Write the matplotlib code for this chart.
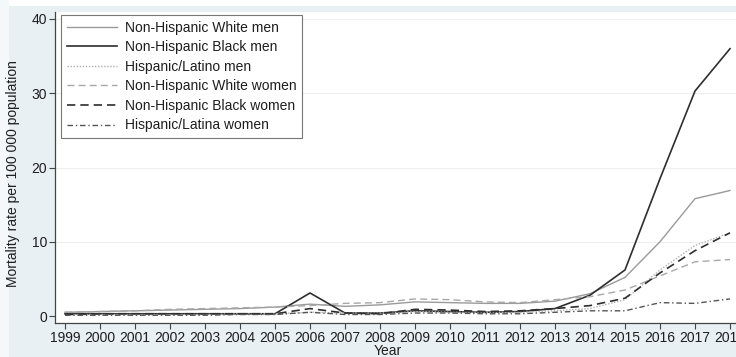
import matplotlib
matplotlib.use("Agg")
import matplotlib.pyplot as plt
from matplotlib.patches import Rectangle

years = list(range(1999, 2019))

nh_white_men = [0.5, 0.6, 0.7, 0.8, 0.9, 1.0, 1.2, 1.6, 1.3, 1.5, 1.9, 1.8, 1.7, 1.7, 2.0, 3.0, 5.2, 10.0, 15.8, 16.9]
nh_black_men = [0.3, 0.3, 0.3, 0.3, 0.3, 0.3, 0.3, 3.1, 0.4, 0.4, 0.7, 0.6, 0.5, 0.6, 1.0, 2.8, 6.2, 18.5, 30.3, 36.0]
hisp_men = [0.2, 0.2, 0.2, 0.2, 0.2, 0.3, 0.3, 0.5, 0.4, 0.4, 0.6, 0.5, 0.5, 0.5, 0.7, 1.0, 2.2, 6.2, 9.5, 11.2]
nh_white_women = [0.5, 0.6, 0.7, 0.9, 1.0, 1.1, 1.2, 1.4, 1.7, 1.8, 2.3, 2.2, 1.9, 1.8, 2.2, 2.6, 3.5, 5.4, 7.3, 7.6]
nh_black_women = [0.2, 0.3, 0.3, 0.3, 0.3, 0.3, 0.3, 1.0, 0.4, 0.3, 0.9, 0.8, 0.6, 0.7, 1.0, 1.4, 2.4, 5.8, 8.8, 11.2]
hisp_women = [0.1, 0.1, 0.1, 0.1, 0.1, 0.2, 0.2, 0.5, 0.2, 0.2, 0.4, 0.4, 0.3, 0.3, 0.5, 0.7, 0.7, 1.8, 1.7, 2.3]

labels = [
    "Non-Hispanic White men",
    "Non-Hispanic Black men",
    "Hispanic/Latino men",
    "Non-Hispanic White women",
    "Non-Hispanic Black women",
    "Hispanic/Latina women",
]
yticks = [0, 10, 20, 30, 40]

plt.rcParams["font.family"] = ["Liberation Sans", "DejaVu Sans"]

W, H = 736, 357
fig = plt.figure(figsize=(W / 100, H / 100), dpi=100)
fig.patch.set_facecolor("#e9f0f4")
# white margins along the top and left edges
fig.add_artist(Rectangle((0, 1 - 6 / H), 1, 6 / H, transform=fig.transFigure,
                         facecolor="white", edgecolor="none", zorder=0))
fig.add_artist(Rectangle((0, 0), 9 / W, 1, transform=fig.transFigure,
                         facecolor="#f4f8fa", edgecolor="none", zorder=0))

left_px, right_px, top_px, bottom_px = 55, 736, 12, 323
ax = fig.add_axes([left_px / W, 1 - bottom_px / H,
                   (right_px - left_px) / W, (bottom_px - top_px) / H])
ax.set_facecolor("white")

x0_px, dx_px = 65, 35.0
ax.set_xlim(1999 - (x0_px - left_px) / dx_px, 1999 + (right_px - x0_px) / dx_px)
y0_px, dy_px = 316, 7.425
ax.set_ylim(-(bottom_px - y0_px) / dy_px, (y0_px - top_px) / dy_px)

styles = [
    dict(color="#9a9a9a", linestyle="-", lw=1.0),
    dict(color="#2e2e2e", linestyle="-", lw=1.2),
    dict(color="#b0b0b0", linestyle=(0, (1, 1.2)), lw=1.0),
    dict(color="#a8a8a8", linestyle=(0, (5, 3)), lw=1.0),
    dict(color="#2e2e2e", linestyle=(0, (5, 3)), lw=1.2),
    dict(color="#555555", linestyle=(0, (4, 2, 1, 2)), lw=1.0),
]
series = [nh_white_men, nh_black_men, hisp_men, nh_white_women, nh_black_women, hisp_women]
for vals, lab, st in zip(series, labels, styles):
    ax.plot(years, vals, label=lab, **st)

for t in yticks[1:]:
    ax.axhline(t, color="#edf0f2", lw=0.8, zorder=0)

ax.set_yticks(yticks)
ax.set_xticks(years)
ax.set_xticklabels([str(y) for y in years])
ax.tick_params(axis="both", direction="out", length=4.5, width=0.8, color="#444444",
               labelsize=10, labelcolor="#1e1e1e", pad=1)
for side in ("top", "right"):
    ax.spines[side].set_visible(False)
for side in ("left", "bottom"):
    ax.spines[side].set_color("#444444")
    ax.spines[side].set_linewidth(0.9)

ax.set_ylabel("Mortality rate per 100 000 population", fontsize=10, color="#1e1e1e")
ax.yaxis.set_label_coords((20 - left_px) / (right_px - left_px), 0.48)
ax.set_xlabel("Year", fontsize=10, color="#1e1e1e")
ax.xaxis.set_label_coords((388 - left_px) / (right_px - left_px), -0.066)

leg = ax.legend(loc="upper left", bbox_to_anchor=(0.009, 0.99), fontsize=10,
                frameon=True, fancybox=False, edgecolor="#777777", framealpha=1,
                handlelength=3.6, handletextpad=0.6, labelspacing=0.4,
                borderpad=0.4, borderaxespad=0)
leg.get_frame().set_linewidth(0.8)
for txt in leg.get_texts():
    txt.set_color("#1e1e1e")

fig.savefig("out.png", dpi=100, facecolor=fig.get_facecolor())
